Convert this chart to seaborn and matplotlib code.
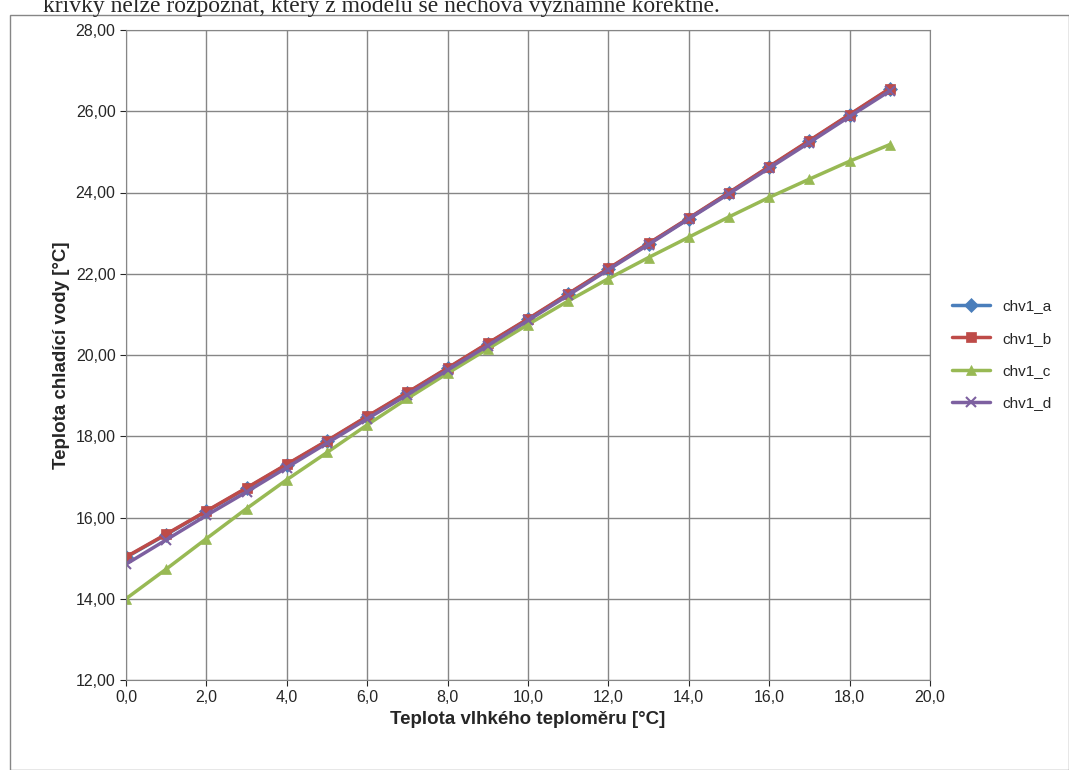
import matplotlib
matplotlib.use("Agg")
import matplotlib.pyplot as plt
import seaborn as sns
import pandas as pd
from matplotlib.ticker import FuncFormatter, MultipleLocator

x = list(range(20))
chv1_a = [15.02, 15.58, 16.15, 16.72, 17.30, 17.88, 18.48, 19.07, 19.67, 20.28,
          20.88, 21.50, 22.12, 22.74, 23.36, 23.99, 24.63, 25.27, 25.91, 26.55]
chv1_b = [15.03, 15.59, 16.16, 16.73, 17.31, 17.89, 18.49, 19.08, 19.68, 20.29,
          20.89, 21.51, 22.13, 22.75, 23.37, 24.00, 24.64, 25.28, 25.92, 26.56]
chv1_c = [14.00, 14.73, 15.48, 16.22, 16.93, 17.60, 18.28, 18.93, 19.55, 20.15,
          20.75, 21.33, 21.88, 22.40, 22.90, 23.40, 23.88, 24.33, 24.77, 25.18]
chv1_d = [14.85, 15.45, 16.05, 16.63, 17.23, 17.83, 18.43, 19.02, 19.63, 20.23,
          20.85, 21.47, 22.10, 22.72, 23.35, 23.97, 24.60, 25.23, 25.87, 26.50]

names = ["chv1_a", "chv1_b", "chv1_c", "chv1_d"]
colors = ["#4a7ebb", "#be4b48", "#98b954", "#7d60a0"]
markers = ["D", "s", "^", "x"]

df = pd.DataFrame({"x": x * 4,
                   "y": chv1_a + chv1_b + chv1_c + chv1_d,
                   "s": sum([[n] * 20 for n in names], [])})

sns.set_style("white")
plt.rcParams["font.family"] = ["Liberation Sans", "DejaVu Sans"]

fig = plt.figure(figsize=(10.69, 7.7), dpi=100)
ax = fig.add_axes([126 / 1069, 90 / 770, 804 / 1069, 650 / 770])

for n, c, m in zip(names, colors, markers):
    d = df[df.s == n]
    sns.lineplot(data=d, x="x", y="y", ax=ax, color=c, marker=m, markersize=7,
                 linewidth=2.5, markeredgecolor=c, markeredgewidth=1.5 if m == "x" else 0.5,
                 label=n)

ax.set_xlim(0, 20)
ax.set_ylim(12, 28)
ax.xaxis.set_major_locator(MultipleLocator(2))
ax.yaxis.set_major_locator(MultipleLocator(2))
ax.xaxis.set_major_formatter(FuncFormatter(lambda v, p: f"{v:.1f}".replace(".", ",")))
ax.yaxis.set_major_formatter(FuncFormatter(lambda v, p: f"{v:.2f}".replace(".", ",")))
ax.grid(True, color="#868686", linewidth=1)
for s in ax.spines.values():
    s.set_color("#868686")
ax.tick_params(labelsize=11.5, length=4, direction="out", left=True, bottom=True)
ax.set_xlabel("Teplota vlhkého teploměru [°C]", fontsize=13.5, fontweight="bold")
ax.set_ylabel("Teplota chladící vody [°C]", fontsize=13.5, fontweight="bold")
ax.legend(loc="center left", bbox_to_anchor=(1.01, 0.5), frameon=False, fontsize=11,
          handlelength=2.5, labelspacing=1.2)

fig.text(0.04, 0.992, "křivky nelze rozpoznat, který z modelů se nechová významně korektně.",
         fontsize=17, family="Liberation Serif", va="center")
fig.add_artist(plt.Rectangle((10 / 1069, 0), 1 - 10 / 1069, 1 - 15 / 770,
                             transform=fig.transFigure, fill=False, edgecolor="#868686"))

fig.savefig("out.png", dpi=100)
